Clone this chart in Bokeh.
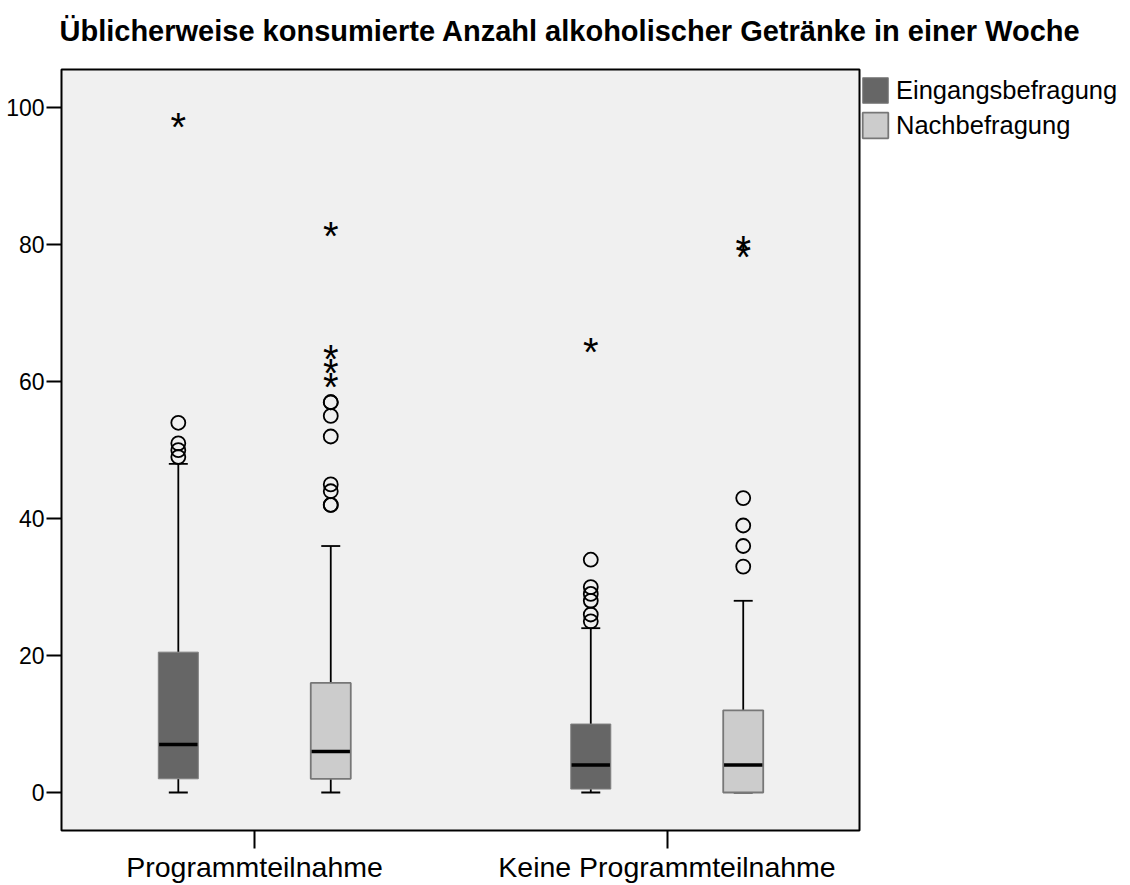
from bokeh.plotting import figure
from bokeh.models import ColumnDataSource, FixedTicker, Legend, LegendItem, Title
from bokeh.core.properties import value
from bokeh.embed import file_html
from bokeh.resources import INLINE

title = "Üblicherweise konsumierte Anzahl alkoholischer Getränke in einer Woche"
categories = ["Programmteilnahme", "Keine Programmteilnahme"]
series = ["Eingangsbefragung", "Nachbefragung"]
y_ticks = [0, 20, 40, 60, 80, 100]

# Eingangsbefragung (per category)
ein_low = [0, 0]
ein_q1 = [2.0, 0.5]
ein_med = [7.0, 4.0]
ein_q3 = [20.5, 10.0]
ein_high = [48, 24]
ein_out_circle = [[54, 51, 50, 49], [34, 30, 29, 28, 26, 25]]
ein_out_star = [[98], [65]]

# Nachbefragung (per category)
nach_low = [0, 0]
nach_q1 = [2.0, 0.0]
nach_med = [6.0, 4.0]
nach_q3 = [16.0, 12.0]
nach_high = [36, 28]
nach_out_circle = [[57, 57, 55, 52, 45, 44, 42, 42], [43, 39, 36, 33]]
nach_out_star = [[82, 64, 62, 60], [80, 79]]

FONT = "Liberation Sans"
fills = ["#666666", "#cccccc"]
borders = ["#808080", "#777777"]
border_w = [1.0, 1.8]
offsets = [-0.1848, 0.1848]
box_w = 0.097
cap_w = 0.046

p = figure(frame_width=798, frame_height=761, output_backend="svg", toolbar_location=None,
           x_range=(0.532, 2.4667), y_range=(-5.55, 105.6),
           min_border_left=61, min_border_right=262, min_border_top=69, min_border_bottom=52)
p.background_fill_color = "#f0f0f0"
p.border_fill_color = "white"
p.outline_line_color = "black"
p.outline_line_width = 2
p.xgrid.visible = False
p.ygrid.visible = False

# spacer between frame and title
p.add_layout(Title(text=" ", text_font_size="2px", standoff=15), "above")
p.title.text = title
p.title.text_font = FONT
p.title.text_font_size = "29px"
p.title.text_font_style = "bold"
p.title.text_color = "black"
p.title.align = "left"
p.title.offset = -2
p.title.standoff = 8

all_sets = [
    (ein_low, ein_q1, ein_med, ein_q3, ein_high, ein_out_circle, ein_out_star),
    (nach_low, nach_q1, nach_med, nach_q3, nach_high, nach_out_circle, nach_out_star),
]

box_renderers = []
for si, (lo, q1, med, q3, hi, oc, os_) in enumerate(all_sets):
    xs = [ci + 1 + offsets[si] for ci in range(len(categories))]
    src = ColumnDataSource(dict(
        x=xs, lo=lo, q1=q1, med=med, q3=q3, hi=hi,
        cl=[x - cap_w / 2 for x in xs], cr=[x + cap_w / 2 for x in xs],
        bl=[x - box_w / 2 + 0.002 for x in xs], br=[x + box_w / 2 - 0.002 for x in xs]))
    p.segment(x0="x", y0="q3", x1="x", y1="hi", source=src, line_color="black", line_width=1.8)
    p.segment(x0="x", y0="lo", x1="x", y1="q1", source=src, line_color="black", line_width=1.8)
    p.segment(x0="cl", y0="hi", x1="cr", y1="hi", source=src, line_color="black", line_width=1.8)
    p.segment(x0="cl", y0="lo", x1="cr", y1="lo", source=src, line_color="black", line_width=1.8)
    r = p.vbar(x="x", width=box_w, top="q3", bottom="q1", source=src,
               fill_color=fills[si], line_color=borders[si], line_width=border_w[si])
    box_renderers.append(r)
    p.segment(x0="bl", y0="med", x1="br", y1="med", source=src, line_color="black", line_width=3.5)
    cx, cy, sx, sy = [], [], [], []
    for ci in range(len(categories)):
        for v in oc[ci]:
            cx.append(xs[ci]); cy.append(v)
        for v in os_[ci]:
            sx.append(xs[ci]); sy.append(v)
    p.scatter(cx, cy, marker="circle", size=14, fill_alpha=0, line_color="black", line_width=1.8)
    p.text(sx, sy, text=["*"] * len(sx), text_font=value(FONT), text_font_size="40px",
           text_align="center", text_baseline="alphabetic", y_offset=5, text_color="black")

p.yaxis.ticker = FixedTicker(ticks=y_ticks)
p.yaxis.minor_tick_line_color = None
p.yaxis.major_tick_in = 0
p.yaxis.major_tick_out = 15
p.yaxis.major_tick_line_width = 2
p.yaxis.axis_line_color = None
p.yaxis.major_label_text_font = FONT
p.yaxis.major_label_text_font_size = "23px"
p.yaxis.major_label_text_color = "black"
p.yaxis.major_label_standoff = 2

p.xaxis.ticker = FixedTicker(ticks=[1, 2])
p.xaxis.major_label_overrides = {1: categories[0], 2: categories[1]}
p.xaxis.minor_tick_line_color = None
p.xaxis.major_tick_in = 0
p.xaxis.major_tick_out = 18
p.xaxis.major_tick_line_width = 2
p.xaxis.axis_line_color = None
p.xaxis.major_label_text_font = FONT
p.xaxis.major_label_text_font_size = "28.5px"
p.xaxis.major_label_text_color = "black"
p.xaxis.major_label_standoff = 2

legend = Legend(items=[LegendItem(label=series[i], renderers=[box_renderers[i]]) for i in range(2)],
                location=(0, 689), margin=0, padding=0, spacing=3,
                glyph_width=32, glyph_height=32, label_standoff=5,
                label_text_font=FONT, label_text_font_size="25.5px", label_text_color="black",
                border_line_color=None, background_fill_alpha=0)
p.add_layout(legend, "right")

open("out.html", "w").write(file_html(p, INLINE))
